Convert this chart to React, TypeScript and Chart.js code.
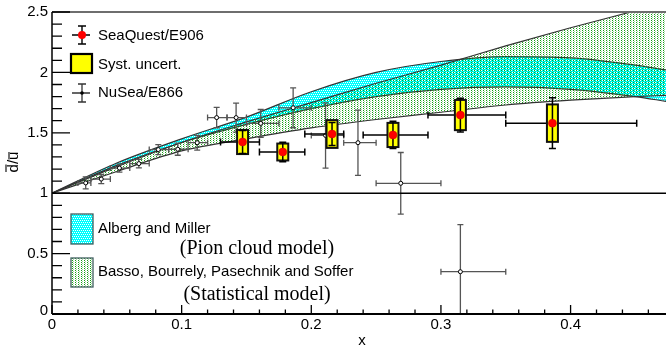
import { useEffect, useRef } from "react";
import { Chart, registerables } from "chart.js";
Chart.register(...registerables);

// ---- model bands (x grid + edges) ----
const modelX = [0, 0.05, 0.1, 0.15, 0.2, 0.25, 0.3, 0.35, 0.4, 0.45, 0.474];
const amUpper = [1.0, 1.25, 1.45, 1.63, 1.84, 2.0, 2.09, 2.13, 2.12, 2.06, 2.02];
const amLower = [1.0, 1.23, 1.42, 1.57, 1.7, 1.8, 1.86, 1.88, 1.86, 1.8, 1.76];
const bbpsUpper = [1.0, 1.22, 1.42, 1.59, 1.75, 1.91, 2.06, 2.22, 2.37, 2.51, 2.58];
const bbpsLower = [1.0, 1.18, 1.35, 1.45, 1.54, 1.61, 1.67, 1.73, 1.77, 1.8, 1.81];

// ---- SeaQuest / E906 ----
const sqX = [0.147, 0.178, 0.216, 0.263, 0.315, 0.386];
const sqY = [1.424, 1.341, 1.49, 1.482, 1.647, 1.58];
const sqXlo = [0.13, 0.16, 0.195, 0.24, 0.29, 0.35];
const sqXhi = [0.16, 0.195, 0.225, 0.29, 0.35, 0.451];
const sqStat = [0.095, 0.08, 0.095, 0.113, 0.14, 0.21];
const sqSyst = [0.1, 0.07, 0.115, 0.1, 0.125, 0.155];

// ---- NuSea / E866 ----
const e866X = [0.026, 0.038, 0.052, 0.067, 0.082, 0.097, 0.112, 0.127, 0.142, 0.161, 0.186, 0.211, 0.236, 0.269, 0.315];
const e866Y = [1.085, 1.117, 1.208, 1.245, 1.361, 1.364, 1.418, 1.626, 1.626, 1.578, 1.707, 1.478, 1.418, 1.082, 0.35];
const e866Err = [0.05, 0.038, 0.033, 0.035, 0.041, 0.05, 0.061, 0.084, 0.12, 0.115, 0.165, 0.27, 0.27, 0.255, 0.39];
const e866Xlo = [0.02, 0.03, 0.045, 0.06, 0.075, 0.09, 0.105, 0.12, 0.135, 0.15, 0.175, 0.2, 0.225, 0.25, 0.3];
const e866Xhi = [0.03, 0.045, 0.06, 0.075, 0.09, 0.105, 0.12, 0.135, 0.15, 0.175, 0.2, 0.225, 0.25, 0.3, 0.35];

// ---- axis ticks ----
const yTickVals = [0, 0.5, 1, 1.5, 2, 2.5];
const yTickLabels = ["0", "0.5", "1", "1.5", "2", "2.5"];
const xTickVals = [0, 0.1, 0.2, 0.3, 0.4];
const xTickLabels = ["0", "0.1", "0.2", "0.3", "0.4"];

const SANS = "'Liberation Sans', Arial, sans-serif";
const SERIF = "'Liberation Serif', 'Times New Roman', serif";

function makePattern(ctx: CanvasRenderingContext2D, w: number, h: number, draw: (g: CanvasRenderingContext2D) => void) {
  const c = document.createElement("canvas");
  c.width = w;
  c.height = h;
  const g = c.getContext("2d")!;
  draw(g);
  return ctx.createPattern(c, "repeat")!;
}

export default function App() {
  const ref = useRef<HTMLCanvasElement>(null);
  useEffect(() => {
    const canvas = ref.current!;
    const ctx = canvas.getContext("2d")!;
    const cyanPat = makePattern(ctx, 4, 4, (g) => {
      g.fillStyle = "#00ffff";
      g.fillRect(0, 0, 4, 4);
      g.fillStyle = "#ffffff";
      g.fillRect(0, 0, 1, 1);
      g.fillRect(2, 0, 1, 1);
      g.fillRect(1, 2, 1, 1);
      g.fillRect(3, 2, 1, 1);
    });
    const greenPat = makePattern(ctx, 3, 2, (g) => {
      g.fillStyle = "#16a016";
      g.fillRect(0, 0, 1, 1);
      g.fillStyle = "rgba(0,140,0,0.35)";
      g.fillRect(1, 1, 1, 1);
    });

    const line = (xs: number[], ys: number[]) => xs.map((x, i) => ({ x, y: ys[i] }));

    const overlay = {
      id: "overlay",
      beforeDatasetDraw(chart: any, args: any) {
        const label = chart.data.datasets[args.index].label;
        const xs = chart.scales.x;
        const ys = chart.scales.y;
        const c: CanvasRenderingContext2D = chart.ctx;
        const a = chart.chartArea;
        c.save();
        c.beginPath();
        c.rect(a.left, a.top, a.right - a.left, a.bottom - a.top);
        c.clip();
        if (label === "e866") {
          c.strokeStyle = "#555555";
          c.lineWidth = 1.3;
          for (let i = 0; i < e866X.length; i++) {
            const px = xs.getPixelForValue(e866X[i]);
            const py = ys.getPixelForValue(e866Y[i]);
            const x0 = xs.getPixelForValue(e866Xlo[i]);
            const x1 = xs.getPixelForValue(e866Xhi[i]);
            const y0 = ys.getPixelForValue(e866Y[i] + e866Err[i]);
            const y1 = ys.getPixelForValue(e866Y[i] - e866Err[i]);
            c.beginPath();
            c.moveTo(x0, py); c.lineTo(x1, py);
            c.moveTo(x0, py - 3); c.lineTo(x0, py + 3);
            c.moveTo(x1, py - 3); c.lineTo(x1, py + 3);
            c.moveTo(px, y0); c.lineTo(px, y1);
            c.moveTo(px - 3, y0); c.lineTo(px + 3, y0);
            c.moveTo(px - 3, y1); c.lineTo(px + 3, y1);
            c.stroke();
          }
        }
        if (label === "sq") {
          for (let i = 0; i < sqX.length; i++) {
            const px = xs.getPixelForValue(sqX[i]);
            const py = ys.getPixelForValue(sqY[i]);
            const x0 = xs.getPixelForValue(sqXlo[i]);
            const x1 = xs.getPixelForValue(sqXhi[i]);
            c.strokeStyle = "#000";
            c.lineWidth = 1.5;
            c.beginPath();
            c.moveTo(x0, py); c.lineTo(x1, py);
            c.moveTo(x0, py - 3.5); c.lineTo(x0, py + 3.5);
            c.moveTo(x1, py - 3.5); c.lineTo(x1, py + 3.5);
            c.stroke();
            const bt = ys.getPixelForValue(sqY[i] + sqSyst[i]);
            const bb = ys.getPixelForValue(sqY[i] - sqSyst[i]);
            c.fillStyle = "#ffff00";
            c.fillRect(px - 5.5, bt, 11, bb - bt);
            c.lineWidth = 2;
            c.strokeStyle = "#111";
            c.strokeRect(px - 5.5, bt, 11, bb - bt);
            const st = ys.getPixelForValue(sqY[i] + sqStat[i]);
            const sb = ys.getPixelForValue(sqY[i] - sqStat[i]);
            c.lineWidth = 1.5;
            c.strokeStyle = "#000";
            c.beginPath();
            c.moveTo(px, st); c.lineTo(px, sb);
            c.moveTo(px - 3.5, st); c.lineTo(px + 3.5, st);
            c.moveTo(px - 3.5, sb); c.lineTo(px + 3.5, sb);
            c.stroke();
          }
        }
        c.restore();
      },
      afterDraw(chart: any) {
        const c: CanvasRenderingContext2D = chart.ctx;
        const xs = chart.scales.x;
        const ys = chart.scales.y;
        const a = chart.chartArea;
        c.save();
        // y = 1 line
        const y1 = ys.getPixelForValue(1);
        c.strokeStyle = "#000";
        c.lineWidth = 1.5;
        c.beginPath();
        c.moveTo(a.left, y1); c.lineTo(a.right, y1);
        c.stroke();
        // top frame
        c.strokeStyle = "#6e6e6e";
        c.lineWidth = 2;
        c.beginPath();
        c.moveTo(a.left, a.top); c.lineTo(a.right, a.top);
        c.stroke();
        // left axis
        c.strokeStyle = "#000";
        c.lineWidth = 1.5;
        c.beginPath();
        c.moveTo(a.left, a.top); c.lineTo(a.left, a.bottom);
        c.stroke();
        // bottom axis
        c.lineWidth = 2.2;
        c.beginPath();
        c.moveTo(a.left, a.bottom); c.lineTo(a.right, a.bottom);
        c.stroke();
        // y ticks
        c.lineWidth = 1.3;
        c.beginPath();
        for (let k = 0; k <= 25; k++) {
          const v = k / 10;
          const py = ys.getPixelForValue(v);
          const len = k % 5 === 0 ? 18 : 10;
          c.moveTo(a.left, py); c.lineTo(a.left + len, py);
        }
        // x ticks
        for (let k = 0; k <= 23; k++) {
          const v = k * 0.02;
          const px = xs.getPixelForValue(v);
          if (px > a.right) break;
          const len = k % 5 === 0 ? 9 : 4.5;
          c.moveTo(px, a.bottom); c.lineTo(px, a.bottom - len);
        }
        c.stroke();
        // tick labels
        c.fillStyle = "#000";
        c.font = `15px ${SANS}`;
        c.textAlign = "right";
        c.textBaseline = "middle";
        yTickVals.forEach((v, i) => {
          const py = ys.getPixelForValue(v) - (v === 0 ? 3 : 0);
          c.fillText(yTickLabels[i], a.left - 4, py);
        });
        c.textAlign = "center";
        xTickVals.forEach((v, i) => {
          c.fillText(xTickLabels[i], xs.getPixelForValue(v), a.bottom + 11);
        });
        // axis titles
        c.fillText("x", 362, 341);
        c.save();
        c.translate(14, 162);
        c.rotate(-Math.PI / 2);
        c.textAlign = "left";
        c.textBaseline = "middle";
        const t = "d/u";
        const tw = c.measureText(t).width;
        const wd = c.measureText("d").width;
        const ws = c.measureText("d/").width;
        const x0 = -tw / 2;
        c.fillText(t, x0, 0);
        c.lineWidth = 1.1;
        c.beginPath();
        c.moveTo(x0 + 0.5, -8); c.lineTo(x0 + wd - 0.5, -8);
        c.moveTo(x0 + ws + 0.5, -5); c.lineTo(x0 + tw - 0.5, -5);
        c.stroke();
        c.restore();

        // ---- top legend ----
        c.textAlign = "left";
        c.textBaseline = "middle";
        c.font = `15px ${SANS}`;
        // entry 1
        c.strokeStyle = "#000";
        c.lineWidth = 1.4;
        c.beginPath();
        c.moveTo(72, 35); c.lineTo(90, 35);
        c.moveTo(82, 26); c.lineTo(82, 44);
        c.moveTo(78, 26); c.lineTo(86, 26);
        c.moveTo(78, 44); c.lineTo(86, 44);
        c.stroke();
        c.fillStyle = "#ff0000";
        c.beginPath();
        c.arc(82, 35, 4, 0, Math.PI * 2);
        c.fill();
        c.fillStyle = "#000";
        c.fillText("SeaQuest/E906", 98, 36);
        // entry 2
        c.fillStyle = "#ffff00";
        c.fillRect(71, 54, 21, 19);
        c.lineWidth = 2.2;
        c.strokeStyle = "#000";
        c.strokeRect(71, 54, 21, 19);
        c.fillStyle = "#000";
        c.fillText("Syst. uncert.", 98, 65);
        // entry 3
        c.strokeStyle = "#333";
        c.lineWidth = 1.3;
        c.beginPath();
        c.moveTo(72, 93); c.lineTo(90, 93);
        c.moveTo(82, 84); c.lineTo(82, 102);
        c.moveTo(78, 84); c.lineTo(86, 84);
        c.moveTo(78, 102); c.lineTo(86, 102);
        c.stroke();
        c.fillStyle = "#000";
        c.beginPath();
        c.arc(82, 93, 1.8, 0, Math.PI * 2);
        c.fill();
        c.fillText("NuSea/E866", 98, 93);

        // ---- bottom legend ----
        c.fillStyle = cyanPat;
        c.fillRect(71, 214, 22, 30);
        c.strokeStyle = "#3f5f5f";
        c.lineWidth = 1.3;
        c.strokeRect(71, 214, 22, 30);
        c.fillStyle = "#ffffff";
        c.fillRect(71.7, 258, 20.6, 29);
        c.fillStyle = greenPat;
        c.fillRect(71, 258, 22, 29);
        c.strokeRect(71, 258, 22, 29);
        c.fillStyle = "#000";
        c.font = `15px ${SANS}`;
        c.fillText("Alberg and Miller", 98, 229);
        c.fillText("Basso, Bourrely, Pasechnik and Soffer", 98, 272);
        c.font = `20px ${SERIF}`;
        c.textAlign = "center";
        c.fillText("(Pion cloud model)", 257, 249);
        c.fillText("(Statistical model)", 257, 295);
        c.restore();
      },
    };

    const edge = "#333333";
    const chart = new Chart(ctx, {
      type: "line",
      data: {
        datasets: [
          { label: "amU", data: line(modelX, amUpper), borderColor: edge, borderWidth: 1.2, pointRadius: 0, fill: "+1", backgroundColor: cyanPat, cubicInterpolationMode: "monotone", order: 20 } as any,
          { label: "amL", data: line(modelX, amLower), borderColor: edge, borderWidth: 1.2, pointRadius: 0, fill: false, cubicInterpolationMode: "monotone", order: 19 } as any,
          { label: "bbU", data: line(modelX, bbpsUpper), borderColor: edge, borderWidth: 1.2, pointRadius: 0, fill: "+1", backgroundColor: greenPat, cubicInterpolationMode: "monotone", order: 18 } as any,
          { label: "bbL", data: line(modelX, bbpsLower), borderColor: edge, borderWidth: 1.2, pointRadius: 0, fill: false, cubicInterpolationMode: "monotone", order: 17 } as any,
          { label: "e866", data: line(e866X, e866Y), showLine: false, pointRadius: 2, pointBackgroundColor: "#ffffff", pointBorderColor: "#000", pointBorderWidth: 1, order: 2 } as any,
          { label: "sq", data: line(sqX, sqY), showLine: false, pointRadius: 4, pointBackgroundColor: "#ff0000", pointBorderColor: "#cc0000", pointBorderWidth: 0.5, order: 1 } as any,
        ],
      },
      options: {
        animation: false,
        responsive: false,
        devicePixelRatio: 1,
        layout: { padding: { left: 52, top: 12, right: 0, bottom: 34 } },
        scales: {
          x: { type: "linear", min: 0, max: 0.4736, display: false },
          y: { type: "linear", min: 0, max: 2.5, display: false },
        },
        plugins: { legend: { display: false }, tooltip: { enabled: false } },
      },
      plugins: [overlay as any],
    });
    return () => chart.destroy();
  }, []);
  return (
    <div style={{ position: "fixed", left: 0, top: 0, width: 671, height: 348, background: "#fff" }}>
      <canvas ref={ref} width={671} height={348} style={{ display: "block", width: 671, height: 348 }} />
    </div>
  );
}
